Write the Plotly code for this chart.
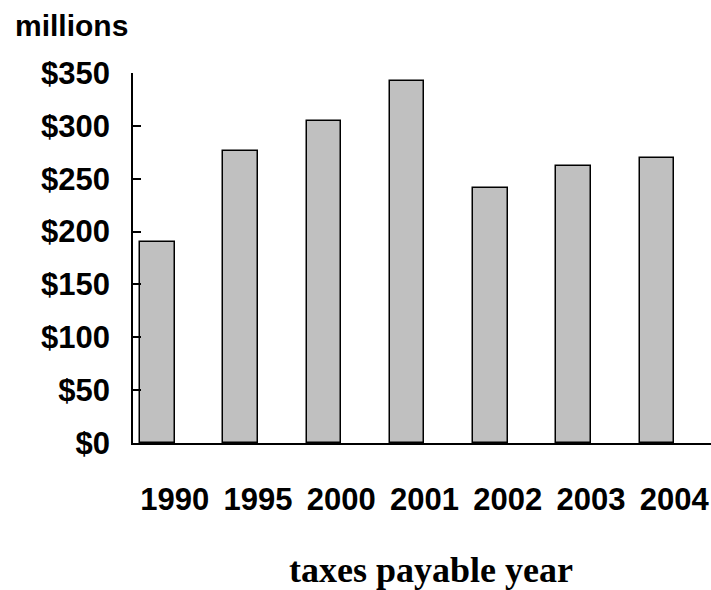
import plotly.graph_objects as go

years = ["1990", "1995", "2000", "2001", "2002", "2003", "2004"]
taxes_millions = [190, 276, 305, 342, 241, 262, 270]
tick_values = [0, 50, 100, 150, 200, 250, 300, 350]
tick_labels = ["$0", "$50", "$100", "$150", "$200", "$250", "$300", "$350"]

SANS = "Liberation Sans, Arial, sans-serif"
SERIF = "Liberation Serif, Times New Roman, serif"

fig = go.Figure()
fig.add_trace(go.Bar(
    x=years, y=taxes_millions,
    offset=-0.416, width=0.415,
    marker=dict(color="#C0C0C0", line=dict(color="black", width=1.5)),
    hoverinfo="x+y", showlegend=False,
))

fig.update_layout(
    width=711, height=590, autosize=False,
    margin=dict(l=133, r=0, t=73, b=147, pad=0),
    plot_bgcolor="white", paper_bgcolor="white",
    bargap=0,
    xaxis=dict(
        type="category", range=[-0.5, 6.44],
        showline=True, linecolor="black", linewidth=1.5,
        showgrid=False, ticks="", zeroline=False,
        tickfont=dict(family=SANS, size=31, color="black", weight="bold"),
        ticklabelstandoff=28,
    ),
    yaxis=dict(
        range=[0, 350], tickvals=tick_values, ticktext=tick_labels,
        showline=True, linecolor="black", linewidth=1.5,
        showgrid=False, zeroline=False,
        ticks="inside", ticklen=8, tickwidth=1.5, tickcolor="black",
        tickfont=dict(family=SANS, size=31, color="black", weight="bold"),
        ticklabelstandoff=15,
    ),
    annotations=[
        dict(text="millions", xref="paper", yref="paper",
             x=-0.2076, y=1.1288, xanchor="left", yanchor="middle",
             showarrow=False,
             font=dict(family=SANS, size=30, color="black", weight="bold")),
        dict(text="taxes payable year", xref="paper", yref="paper",
             x=0.516, y=-0.343, xanchor="center", yanchor="middle",
             showarrow=False,
             font=dict(family=SERIF, size=36, color="black", weight="bold")),
    ],
)

fig.write_html(
    "out.html",
    config={"displayModeBar": False},
    post_script="document.body.style.margin='0';document.body.style.overflow='hidden';",
)
